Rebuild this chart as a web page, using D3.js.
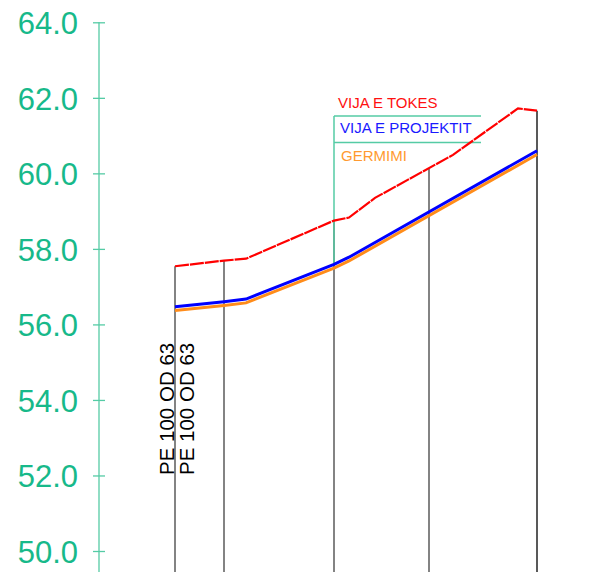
<!DOCTYPE html>
<html>
<head>
<meta charset="utf-8">
<script src="https://cdn.jsdelivr.net/npm/d3@7"></script>
<style>
  body { margin: 0; background: #fff; }
  svg { display: block; font-family: "Liberation Sans", Arial, sans-serif; }
</style>
</head>
<body>
<svg></svg>
<script>
// elevations along the profile (chainage in m, level in m)
var yTicks = [50, 52, 54, 56, 58, 60, 62, 64];

var tokesX = [0, 24.5, 35.5, 79.5, 87, 100, 139, 171.5, 181];
var tokesY = [57.54, 57.69, 57.74, 58.75, 58.83, 59.35, 60.49, 61.72, 61.66];

var projX = [0, 24.5, 35.5, 79.5, 87, 181];
var projY = [56.47, 56.60, 56.67, 57.59, 57.78, 60.60];
var germY = [56.37, 56.50, 56.57, 57.49, 57.68, 60.50];

// station verticals and the ground level where they stop
var stations = [0, 24.5, 79.5, 127, 181];
var stationTop = [57.54, 57.69, 58.75, 60.13, 61.66];

var pipeLabels = ["PE 100 OD 63", "PE 100 OD 63"];
var legendNames = ["VIJA E TOKES", "VIJA E PROJEKTIT", "GERMIMI"];

var svgWidth = 601, svgHeight = 572;
var axisGreen = "#55cba5", textGreen = "#17b98a";

var svg = d3.select("svg")
  .attr("width", svgWidth)
  .attr("height", svgHeight);

var xScale = d3.scaleLinear().domain([0, 181]).range([175, 537]);
var yScale = d3.scaleLinear().domain([50, 64]).range([551, 22.3]);

// y axis
var y_axis = d3.axisLeft(yScale)
  .tickValues(yTicks)
  .tickFormat(d3.format(".1f"))
  .tickSizeOuter(0);

var gAxis = svg.append("g")
  .attr("transform", "translate(99,0)")
  .call(y_axis);
gAxis.select(".domain").remove();
gAxis.append("line")
  .attr("x1", 0).attr("x2", 0)
  .attr("y1", yScale(64)).attr("y2", svgHeight)
  .attr("stroke", axisGreen).attr("stroke-width", 1.3);
gAxis.selectAll(".tick line")
  .attr("x1", -6).attr("x2", 6)
  .attr("stroke", axisGreen).attr("stroke-width", 1.3);
gAxis.selectAll(".tick text")
  .attr("x", -21)
  .attr("dy", "0.36em")
  .attr("fill", textGreen)
  .style("font-size", "31px")
  .style("font-family", "'Liberation Sans', Arial, sans-serif");

// station verticals
svg.selectAll("line.station")
  .data(stations)
  .enter()
  .append("line")
  .attr("class", "station")
  .attr("x1", function(d){ return xScale(d); })
  .attr("x2", function(d){ return xScale(d); })
  .attr("y1", function(d, i){ return yScale(stationTop[i]); })
  .attr("y2", svgHeight)
  .attr("stroke", function(d, i){ return i == stations.length - 1 ? "#222" : "#5a5a5a"; })
  .attr("stroke-width", 1.5);

// legend box
var lx = xScale(79.5), rx = 481;
svg.append("line")
  .attr("x1", lx).attr("x2", lx)
  .attr("y1", 116).attr("y2", yScale(projY[3]))
  .attr("stroke", axisGreen).attr("stroke-width", 1.5);
[116, 142.5].forEach(function(y){
  svg.append("line")
    .attr("x1", lx).attr("x2", rx)
    .attr("y1", y).attr("y2", y)
    .attr("stroke", axisGreen).attr("stroke-width", 1.5);
});

var legendColors = ["#ff1010", "#1a1aff", "#ff9a30"];
var legendPos = [[338, 107.5], [340, 133], [341, 161]];
svg.selectAll("text.legend")
  .data(legendNames)
  .enter()
  .append("text")
  .attr("class", "legend")
  .attr("x", function(d, i){ return legendPos[i][0]; })
  .attr("y", function(d, i){ return legendPos[i][1]; })
  .attr("fill", function(d, i){ return legendColors[i]; })
  .style("font-size", "15px")
  .text(function(d){ return d; });

// profile lines
var line = d3.line()
  .x(function(d){ return xScale(d[0]); })
  .y(function(d){ return yScale(d[1]); });

svg.append("path")
  .datum(d3.zip(projX, germY))
  .attr("d", line)
  .attr("fill", "none")
  .attr("stroke", "#ff8c1a")
  .attr("stroke-width", 3);

svg.append("path")
  .datum(d3.zip(projX, projY))
  .attr("d", line)
  .attr("fill", "none")
  .attr("stroke", "#0000ff")
  .attr("stroke-width", 3);

svg.append("path")
  .datum(d3.zip(tokesX, tokesY))
  .attr("d", line)
  .attr("fill", "none")
  .attr("stroke", "#ff0000")
  .attr("stroke-width", 2.2)
  .attr("stroke-dasharray", "14,1");

// pipe labels, rotated
var labelX = [xScale(0) - 1.5, xScale(0) + 18.5];
svg.selectAll("text.pipe")
  .data(pipeLabels)
  .enter()
  .append("text")
  .attr("class", "pipe")
  .attr("transform", function(d, i){ return "translate(" + labelX[i] + ",475) rotate(-90)"; })
  .attr("fill", "#000")
  .style("font-size", "20.5px")
  .text(function(d){ return d; });
</script>
</body>
</html>
